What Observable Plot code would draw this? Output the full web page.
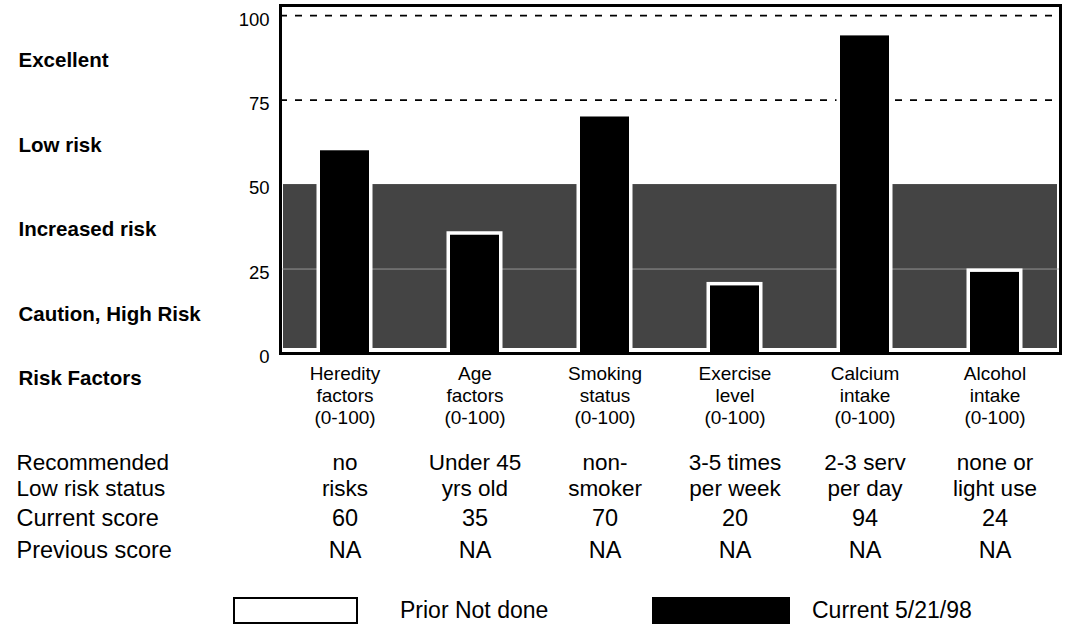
<!DOCTYPE html>
<html>
<head>
<meta charset="utf-8">
<script src="https://cdn.jsdelivr.net/npm/d3@7"></script>
<script src="https://cdn.jsdelivr.net/npm/@observablehq/plot@0.6"></script>
<style>
  body { margin: 0; background: #fff; font-family: "Liberation Sans", Arial, sans-serif; }
  #chart svg { display: block; }
  .legend { position: relative; width: 1066px; height: 56px; font-size: 23px; color: #000; }
  .legend .box { position: absolute; top: 22px; height: 27px; box-sizing: border-box; }
  .legend .prior { left: 233px; width: 125px; border: 2px solid #000; background: #fff; }
  .legend .current { left: 652px; width: 138px; background: #000; }
  .legend .lbl { position: absolute; top: 21px; line-height: 28px; white-space: nowrap; }
</style>
</head>
<body>
<div id="chart"></div>
<div class="legend">
  <div class="box prior"></div><span class="lbl" style="left:400px">Prior Not done</span>
  <div class="box current"></div><span class="lbl" style="left:812px">Current 5/21/98</span>
</div>
<script>
// ---- data ----
const categories = ["Heredity", "Age", "Smoking", "Exercise", "Calcium", "Alcohol"];
const axisLabels = ["Heredity\nfactors\n(0-100)", "Age\nfactors\n(0-100)", "Smoking\nstatus\n(0-100)",
                    "Exercise\nlevel\n(0-100)", "Calcium\nintake\n(0-100)", "Alcohol\nintake\n(0-100)"];
const currentScores = [60, 35, 70, 20, 94, 24];
const previousScores = ["NA", "NA", "NA", "NA", "NA", "NA"];
const recommended = ["no\nrisks", "Under 45\nyrs old", "non-\nsmoker", "3-5 times\nper week", "2-3 serv\nper day", "none or\nlight use"];
const zoneLabels = ["Excellent", "Low risk", "Increased risk", "Caution, High Risk"];
const zoneMids = [87.5, 62.5, 37.5, 12.5];
const yTicks = [0, 25, 50, 75, 100];
const dashedLevels = [75, 100];
const gridLevels = [25];
const shadedRange = [0, 50];
const rowHeaders = ["Recommended\nLow risk status", "Current score", "Previous score"];

const font = "Liberation Sans, Arial, sans-serif";

const chart = Plot.plot({
  width: 1066,
  height: 575,
  marginLeft: 280,
  marginRight: 6,
  marginTop: 5,
  marginBottom: 222,
  style: { fontFamily: font, background: "#fff", color: "#000" },
  x: { type: "band", domain: categories, paddingInner: 0.62, paddingOuter: 0.31, axis: null },
  y: { domain: [0, 103], axis: null },
  marks: [
    Plot.rect([shadedRange], { y1: d => d[0], y2: d => d[1], fill: "#444", insetLeft: 3, insetRight: 3, insetBottom: 5 }),
    Plot.ruleY(gridLevels, { stroke: "#aaa", strokeWidth: 0.8 }),
    Plot.ruleY(dashedLevels, { stroke: "#000", strokeWidth: 1.6, strokeDasharray: "7,8" }),
    Plot.barY(categories, { x: d => d, y: (d, i) => currentScores[i], fill: "#000", stroke: "#fff", strokeWidth: 7, paintOrder: "stroke" }),
    Plot.frame({ stroke: "#000", strokeWidth: 3 }),
    Plot.axisY(yTicks, { tickSize: 0, tickPadding: 11, fontSize: 18.5, dy: 4, tickFormat: d => d }),
    // zone labels at left
    Plot.text(zoneLabels, { y: (d, i) => zoneMids[i], text: d => d, frameAnchor: "left", dx: -262, dy: 3,
      textAnchor: "start", lineAnchor: "middle", fontSize: 20.5, fontWeight: "bold" }),
    Plot.text(["Risk Factors"], { frameAnchor: "bottom-left", dx: -262, dy: 25, textAnchor: "start", lineAnchor: "middle", fontSize: 20.5, fontWeight: "bold" }),
    // category labels under the frame
    Plot.text(categories, { x: d => d, text: (d, i) => axisLabels[i], frameAnchor: "bottom", lineAnchor: "middle", dy: 41, fontSize: 19, lineHeight: 1.16 }),
    // table rows
    Plot.text([rowHeaders[0]], { frameAnchor: "bottom-left", dx: -264, dy: 121.5, textAnchor: "start", lineAnchor: "middle", fontSize: 22.5, lineHeight: 1.12 }),
    Plot.text([rowHeaders[1]], { frameAnchor: "bottom-left", dx: -264, dy: 165, textAnchor: "start", lineAnchor: "middle", fontSize: 23.5 }),
    Plot.text([rowHeaders[2]], { frameAnchor: "bottom-left", dx: -264, dy: 197, textAnchor: "start", lineAnchor: "middle", fontSize: 23.5 }),
    Plot.text(categories, { x: d => d, text: (d, i) => recommended[i], frameAnchor: "bottom", lineAnchor: "middle", dy: 121.5, fontSize: 22.5, lineHeight: 1.12 }),
    Plot.text(categories, { x: d => d, text: (d, i) => String(currentScores[i]), frameAnchor: "bottom", lineAnchor: "middle", dy: 165, fontSize: 23.5 }),
    Plot.text(categories, { x: d => d, text: (d, i) => previousScores[i], frameAnchor: "bottom", lineAnchor: "middle", dy: 197, fontSize: 23.5 })
  ]
});
document.getElementById("chart").append(chart);
</script>
</body>
</html>
